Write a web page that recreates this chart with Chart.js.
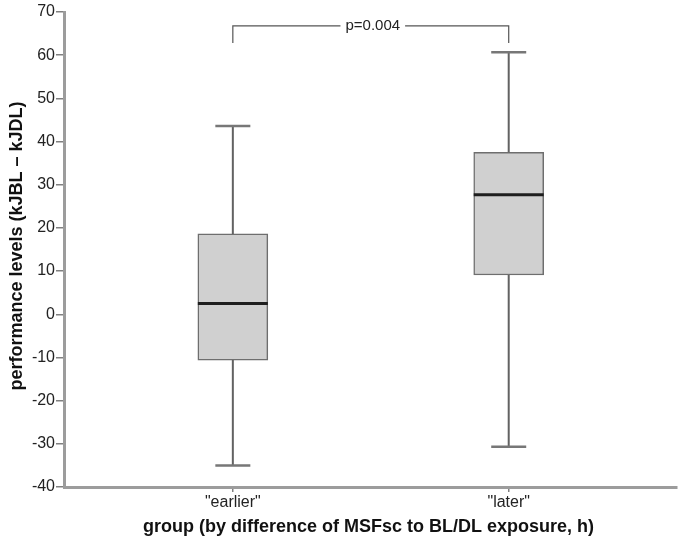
<!DOCTYPE html>
<html>
<head>
<meta charset="utf-8">
<script src="https://cdn.jsdelivr.net/npm/chart.js@4/dist/chart.umd.min.js"></script>
<style>
html,body{margin:0;padding:0;background:#fff;}
#wrap{width:683px;height:552px;}
</style>
</head>
<body>
<div id="wrap"><canvas id="c" width="683" height="552"></canvas></div>
<script>
// ---- data ----
const categories = ['"earlier"', '"later"'];
const whiskerLow  = [-35.0, -30.7];
const quartile1   = [-10.6, 9.1];
const medians     = [2.5, 27.7];
const quartile3   = [18.6, 37.5];
const whiskerHigh = [43.6, 60.7];
const yTickValues = [-40, -30, -20, -10, 0, 10, 20, 30, 40, 50, 60, 70];
const pLabel = 'p=0.004';
const bracketTop = 66.8;
const bracketBottom = 62.8;
const yTitle = 'performance levels (kJBL \u2013 kJDL)';
const xTitle = 'group (by difference of MSFsc to BL/DL exposure, h)';

const FONT = '"Liberation Sans", Arial, sans-serif';

const boxPlugin = {
  id: 'boxExtras',
  afterDatasetsDraw(chart) {
    const ctx = chart.ctx;
    const xs = chart.scales.x, ys = chart.scales.y;
    const area = chart.chartArea;
    ctx.save();
    categories.forEach((c, i) => {
      const x = xs.getPixelForValue(i + 1);
      ctx.strokeStyle = '#626262';
      ctx.lineWidth = 2;
      ctx.beginPath();
      ctx.moveTo(x, ys.getPixelForValue(quartile3[i]));
      ctx.lineTo(x, ys.getPixelForValue(whiskerHigh[i]));
      ctx.moveTo(x, ys.getPixelForValue(quartile1[i]));
      ctx.lineTo(x, ys.getPixelForValue(whiskerLow[i]));
      ctx.stroke();
      ctx.strokeStyle = '#777';
      ctx.lineWidth = 2.5;
      ctx.beginPath();
      ctx.moveTo(x - 17.5, ys.getPixelForValue(whiskerHigh[i]));
      ctx.lineTo(x + 17.5, ys.getPixelForValue(whiskerHigh[i]));
      ctx.moveTo(x - 17.5, ys.getPixelForValue(whiskerLow[i]));
      ctx.lineTo(x + 17.5, ys.getPixelForValue(whiskerLow[i]));
      ctx.stroke();
      ctx.strokeStyle = '#1e1e1e';
      ctx.lineWidth = 3;
      ctx.beginPath();
      ctx.moveTo(x - 35, ys.getPixelForValue(medians[i]));
      ctx.lineTo(x + 35, ys.getPixelForValue(medians[i]));
      ctx.stroke();
    });
    // significance bracket
    const x1 = xs.getPixelForValue(1), x2 = xs.getPixelForValue(2);
    const yt = ys.getPixelForValue(bracketTop), yb = ys.getPixelForValue(bracketBottom);
    ctx.font = '15px ' + FONT;
    const tw = ctx.measureText(pLabel).width;
    const mid = (x1 + x2) / 2 + 2;
    ctx.strokeStyle = '#555';
    ctx.lineWidth = 1.2;
    ctx.beginPath();
    ctx.moveTo(x1, yb); ctx.lineTo(x1, yt); ctx.lineTo(mid - tw / 2 - 5, yt);
    ctx.moveTo(mid + tw / 2 + 5, yt); ctx.lineTo(x2, yt); ctx.lineTo(x2, yb);
    ctx.stroke();
    ctx.fillStyle = '#222';
    ctx.textAlign = 'center';
    ctx.textBaseline = 'middle';
    ctx.fillText(pLabel, mid, yt);
    // axis titles
    ctx.font = 'bold 18px ' + FONT;
    ctx.fillStyle = '#111';
    ctx.fillText(xTitle, (area.left + area.right) / 2 - 2, 527);
    ctx.translate(17, 246);
    ctx.rotate(-Math.PI / 2);
    ctx.fillText(yTitle, 0, 0);
    ctx.restore();
  }
};

new Chart(document.getElementById('c'), {
  type: 'bar',
  data: {
    datasets: [{
      data: categories.map((c, i) => ({ x: i + 1, y: [quartile1[i], quartile3[i]] })),
      backgroundColor: '#d0d0d0',
      borderColor: '#6e6e6e',
      borderWidth: 1.5,
      borderSkipped: false,
      barThickness: 70
    }]
  },
  options: {
    responsive: false,
    animation: false,
    layout: { padding: { top: 12, right: 6, left: 0, bottom: 0 } },
    plugins: { legend: { display: false }, tooltip: { enabled: false } },
    scales: {
      x: {
        type: 'linear',
        offset: false,
        min: 0.388,
        max: 2.61,
        afterBuildTicks: (s) => { s.ticks = categories.map((c, i) => ({ value: i + 1 })); },
        afterFit: (s) => { s.height = 65; },
        ticks: {
          callback: (v) => categories[v - 1],
          font: { family: FONT, size: 16 },
          color: '#222',
          padding: 1,
          maxRotation: 0
        },
        grid: { display: true, offset: false, drawOnChartArea: false, drawTicks: true, tickLength: 5, color: '#808080', lineWidth: 1.5 },
        border: { display: true, color: '#9c9c9c', width: 3 }
      },
      y: {
        min: -40,
        max: 70,
        afterBuildTicks: (s) => { s.ticks = yTickValues.map(v => ({ value: v })); },
        afterFit: (s) => { s.width = 64; },
        ticks: {
          font: { family: FONT, size: 16 },
          color: '#222',
          padding: 1
        },
        grid: { display: true, drawOnChartArea: false, drawTicks: true, tickLength: 8, color: '#808080', lineWidth: 1.5 },
        border: { display: true, color: '#9c9c9c', width: 3 }
      }
    }
  },
  plugins: [boxPlugin]
});
</script>
</body>
</html>
